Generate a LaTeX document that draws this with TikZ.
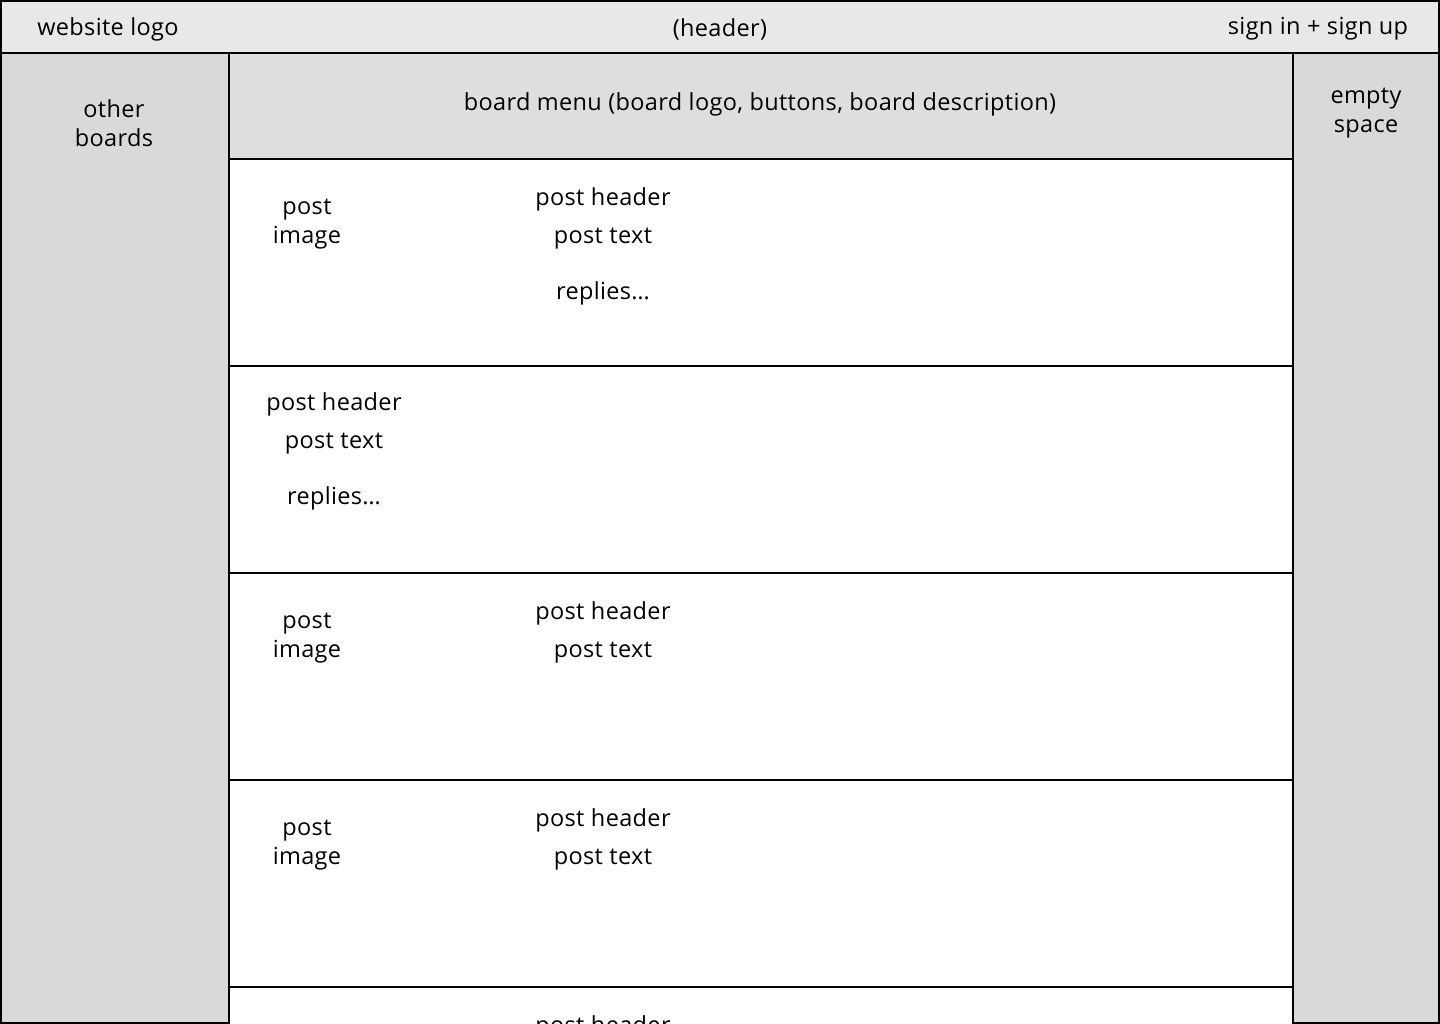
\documentclass[tikz,border=0pt]{standalone}
\usepackage{fontspec}
\setmainfont{Open Sans}[LetterSpace=1.5]
\definecolor{hdr}{HTML}{E8E8E8}
\definecolor{side}{HTML}{D9D9D9}
\definecolor{menu}{HTML}{DEDEDE}
\begin{document}
\begin{tikzpicture}[x=1pt,y=-1pt,
  panel/.style={draw=black,line width=2pt},
  lbl/.style={font=\fontsize{23.5}{29}\selectfont,inner sep=0pt,align=center,text=black,yshift=-2pt}]
\useasboundingbox (0,0) rectangle (1440,1024);
\clip (0,0) rectangle (1440,1024);
\fill[white] (0,0) rectangle (1440,1024);
% header
\draw[panel,fill=hdr] (1,1) rectangle (1439,53);
% sidebars
\draw[panel,fill=side] (1,53) rectangle (229,1023);
\draw[panel,fill=side] (1293,53) rectangle (1439,1023);
% board menu
\draw[panel,fill=menu] (229,53) rectangle (1293,159);
% posts
\draw[panel,fill=white] (229,159) rectangle (1293,366);
\draw[panel,fill=white] (229,366) rectangle (1293,573);
\draw[panel,fill=white] (229,573) rectangle (1293,780);
\draw[panel,fill=white] (229,780) rectangle (1293,987);
\draw[panel,fill=white] (229,987) rectangle (1293,1200);
% header texts
\node[lbl] (logo) at (108,27) {website logo};
\node[lbl] (header) at (720,27) {(header)};
\node[lbl] (sign) at (1318,27) {sign in + sign up};
\node[lbl] (other) at (114,121.5) {other\\boards};
\node[lbl] (empty) at (1366,111.5) {empty\\space};
\node[lbl] (menutxt) at (760,102) {board menu (board logo, buttons, board description)};
% post 1
\node[lbl] (img1) at (307,222.5) {post\\image};
\node[lbl] (ph1) at (603,197) {post header};
\node[lbl] (pt1) at (603,237) {post text};
\node[lbl] (rp1) at (603,291) {replies…};
% post 2
\node[lbl] (ph2) at (334,402) {post header};
\node[lbl] (pt2) at (334,442) {post text};
\node[lbl] (rp2) at (334,496) {replies…};
% post 3
\node[lbl] (img3) at (307,636.5) {post\\image};
\node[lbl] (ph3) at (603,611) {post header};
\node[lbl] (pt3) at (603,651) {post text};
% post 4
\node[lbl] (img4) at (307,843.5) {post\\image};
\node[lbl] (ph4) at (603,818) {post header};
\node[lbl] (pt4) at (603,858) {post text};
% post 5
\node[lbl] (ph5) at (603,1025) {post header};
\end{tikzpicture}
\end{document}
